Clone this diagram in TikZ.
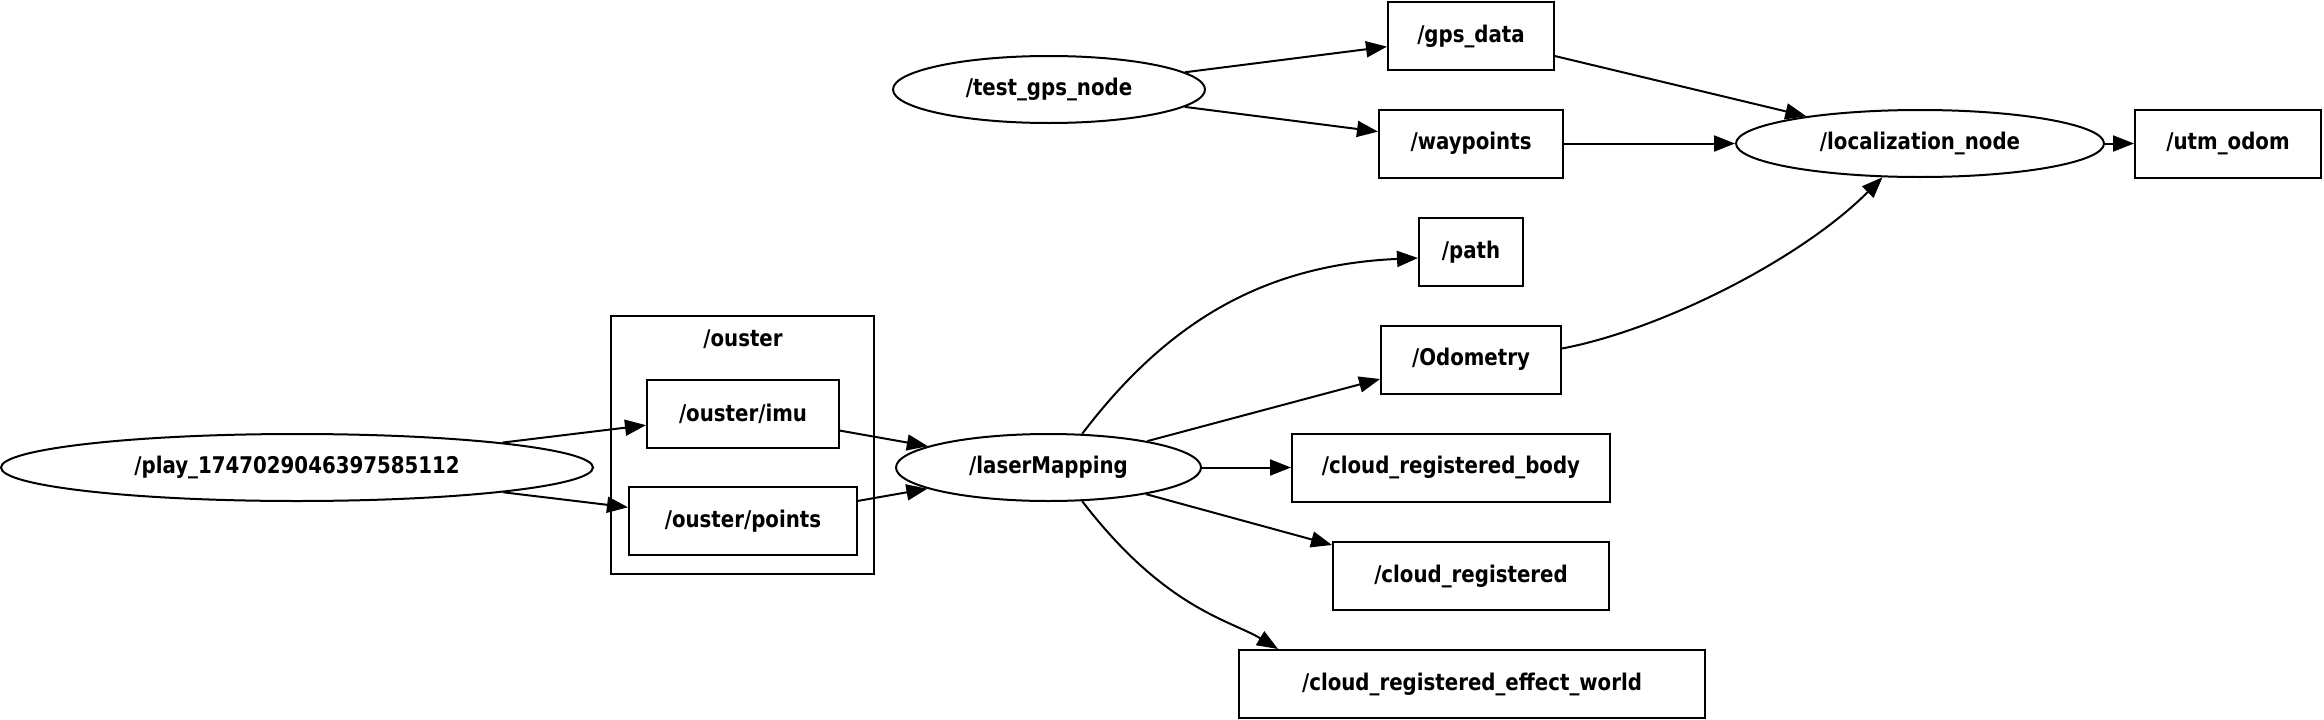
\documentclass[tikz,border=0pt]{standalone}
\usepackage{fontspec}
\setmainfont{DejaVu Sans}[FakeStretch=0.86]
\usetikzlibrary{shapes.geometric,arrows.meta}
\begin{document}
\begin{tikzpicture}[x=1pt,y=-1pt,
  every node/.style={font=\fontsize{23}{27}\selectfont\bfseries, inner sep=0pt},
  topic/.style={draw, line width=2pt, minimum height=68pt},
  rosnode/.style={draw, ellipse, line width=2pt, minimum height=67pt},
  cluster/.style={draw, line width=2pt},
  edge/.style={line width=2pt, -{Triangle[length=21pt,width=16pt]}}]
\useasboundingbox (0,0) rectangle (2324,720);
\fill[white] (0,0) rectangle (2324,720);
% cluster
\draw[cluster] (611,316) rectangle (874,574);
\node (clabel) at (743,339) {/ouster};
% ros nodes
\node[rosnode, minimum width=592pt] (play) at (297,467.5) {/play\_1747029046397585112};
\node[rosnode, minimum width=312pt] (tgps) at (1049,89.5) {/test\_gps\_node};
\node[rosnode, minimum width=305pt] (lm) at (1048.5,467.5) {/laserMapping};
\node[rosnode, minimum width=368pt] (loc) at (1920,143.5) {/localization\_node};
% topics
\node[topic, minimum width=166pt] (gps) at (1471,36) {/gps\_data};
\node[topic, minimum width=184pt] (wp) at (1471,143.5) {/waypoints};
\node[topic, minimum width=186pt] (utm) at (2228,143.5) {/utm\_odom};
\node[topic, minimum width=104pt] (path) at (1471,252) {/path};
\node[topic, minimum width=180pt] (odo) at (1471,359.5) {/Odometry};
\node[topic, minimum width=318pt] (crb) at (1451,467.5) {/cloud\_registered\_body};
\node[topic, minimum width=276pt] (cr) at (1471,576) {/cloud\_registered};
\node[topic, minimum width=466pt] (ew) at (1472,684) {/cloud\_registered\_effect\_world};
\node[topic, minimum width=192pt] (imu) at (743,413.5) {/ouster/imu};
\node[topic, minimum width=228pt] (pts) at (743,521) {/ouster/points};
% edges
\draw[edge] (play) -- (imu);
\draw[edge] (play) -- (pts);
\draw[edge] (imu) -- (lm);
\draw[edge] (pts) -- (lm);
\draw[edge] (tgps) -- (gps);
\draw[edge] (tgps) -- (wp);
\draw[edge] (gps) -- (loc);
\draw[edge] (wp.east) -- (loc.west);
\draw[edge] (loc.east) -- (utm.west);
\draw[edge] ([yshift=11pt]odo.east) .. controls (1660,330) and (1800,260) .. (loc.222);
\draw[edge] (lm.45) .. controls (1165,325) and (1260,265) .. ([yshift=-6pt]path.west);
\draw[edge] (lm) -- ([yshift=-19.5pt]odo.west);
\draw[edge] (lm.east) -- (crb.west);
\draw[edge] (lm) -- ([yshift=-4pt]cr.north west);
\draw[edge] (lm.-45) .. controls (1165,609) and (1230,620) .. ([xshift=40pt]ew.north west);
\end{tikzpicture}
\end{document}
